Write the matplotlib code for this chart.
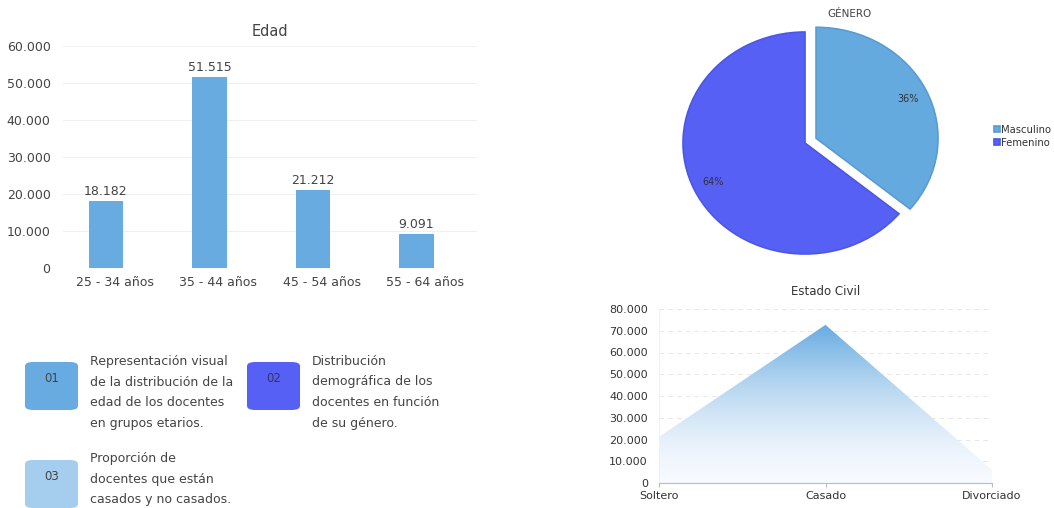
import matplotlib.pyplot as plt
import numpy as np
from matplotlib.patches import FancyBboxPatch, Polygon

# data
edad_labels = ['25 - 34 años', '35 - 44 años', '45 - 54 años', '55 - 64 años']
edad_values = [18182, 51515, 21212, 9091]
edad_text = ['18.182', '51.515', '21.212', '9.091']

genero_labels = ['Masculino', 'Femenino']
genero_values = [36, 64]

civil_labels = ['Soltero', 'Casado', 'Divorciado']
civil_values = [21212, 72727, 6061]

notes = ['Representación visual\nde la distribución de la\nedad de los docentes\nen grupos etarios.',
         'Distribución\ndemográfica de los\ndocentes en función\nde su género.',
         'Proporción de\ndocentes que están\ncasados y no casados.']
note_tags = ['01', '02', '03']

BLUE = '#67ABE1'
PURPLE = '#5660F5'
LIGHT = '#A5CDEE'
TXT = '#444444'

W, H = 1054, 508
fig = plt.figure(figsize=(W / 100, H / 100), dpi=100)
plt.rcParams['font.family'] = 'DejaVu Sans'

def px_axes(x0, y0, x1, y1):
    # pixel box (top-left origin) -> figure axes
    return fig.add_axes([x0 / W, 1 - y1 / H, (x1 - x0) / W, (y1 - y0) / H])

def fmt(v):
    return f'{int(v):,}'.replace(',', '.')

# ---- bar chart: Edad
ax = px_axes(63, 46, 477, 268)
pos = np.arange(len(edad_values))
ax.bar(pos - 0.085, edad_values, width=0.33, color=BLUE, zorder=3)
for p, v, t in zip(pos, edad_values, edad_text):
    ax.text(p - 0.085, v + 800, t, ha='center', va='bottom', fontsize=9, color=TXT)
ax.set_xlim(-0.5, 3.5)
ax.set_ylim(0, 60000)
ax.set_yticks(np.arange(0, 60001, 10000))
ax.set_yticklabels([fmt(v) for v in np.arange(0, 60001, 10000)])
ax.set_xticks(pos)
ax.set_xticklabels(edad_labels)
ax.tick_params(length=0, labelsize=9, colors=TXT, pad=6)
ax.tick_params(axis='y', pad=9)
ax.grid(axis='y', color='#F0F0F0', lw=0.8, zorder=0)
for s in ax.spines.values():
    s.set_visible(False)
ax.set_title('Edad', fontsize=10.5, color=TXT, pad=7)

# ---- pie: GÉNERO
rx, ry = 122, 111
cx, cy = 805, 143
axp = px_axes(cx - 1.2 * rx, cy - 1.2 * ry, cx + 1.2 * rx, cy + 1.2 * ry)
wedges, _, autotexts = axp.pie(genero_values, colors=['#64AADF', PURPLE], explode=[0.1, 0],
                               startangle=90, counterclock=False, autopct='%d%%',
                               pctdistance=0.83,
                               wedgeprops=dict(edgecolor=None, linewidth=0))
wedges[0].set_edgecolor('#5A9BD2')
wedges[0].set_linewidth(1.2)
wedges[1].set_edgecolor('#4C56E6')
wedges[1].set_linewidth(1.2)
for t in autotexts:
    t.set_fontsize(7)
    t.set_color('#333333')
axp.set_aspect('auto')
axp.set_xlim(-1.2, 1.2)
axp.set_ylim(-1.2, 1.2)
fig.text(849 / W, 1 - 14 / H, 'GÉNERO', ha='center', va='center', fontsize=7.5, color=TXT)
fig.legend(wedges, genero_labels, loc='upper left', bbox_to_anchor=(994 / W, 1 - 125 / H),
           frameon=False, fontsize=7.2, handlelength=0.55, handleheight=0.55, handletextpad=0.2,
           labelspacing=0.3, borderaxespad=0, borderpad=0, labelcolor='#333333')

# ---- area: Estado Civil
axa = px_axes(659, 309, 992, 483)
xs = np.arange(len(civil_values))
ymax = max(civil_values)
grad = np.linspace(0, 1, 256).reshape(-1, 1)
c_top = np.array([0x67, 0xAB, 0xE1]) / 255
c_bot = np.array([0xF7, 0xFA, 0xFE]) / 255
img = c_bot + (c_top - c_bot) * grad[..., None] ** 1.6
im = axa.imshow(img, extent=[0, 2, 0, ymax], origin='lower', aspect='auto', zorder=2)
poly = Polygon(list(zip(xs, civil_values)) + [(2, 0), (0, 0)], closed=True,
               transform=axa.transData, facecolor='none', edgecolor='none')
axa.add_patch(poly)
im.set_clip_path(poly)
axa.set_xlim(0, 2)
axa.set_ylim(0, 80000)
axa.set_yticks(np.arange(0, 80001, 10000))
axa.set_yticklabels([fmt(v) for v in np.arange(0, 80001, 10000)])
axa.set_xticks(xs)
axa.set_xticklabels(civil_labels)
axa.grid(axis='y', color='#E8E8E8', lw=0.7, ls=(0, (5, 4)), zorder=0)
axa.tick_params(axis='y', length=0, labelsize=8, colors='#333333', pad=8)
axa.tick_params(axis='x', direction='out', length=3, color='#BBBBBB', labelsize=8,
                labelcolor='#333333', pad=3)
for k in ['top', 'right']:
    axa.spines[k].set_visible(False)
axa.spines['left'].set_color('#F0F0F0')
axa.spines['bottom'].set_color('#BBBBBB')
axa.set_title('Estado Civil', fontsize=8.5, color='#333333', pad=10)

# ---- note boxes
box_pos = [(25, 362), (247, 362), (25, 460)]
box_col = [BLUE, PURPLE, LIGHT]
text_pos = [(90, 355), (312, 355), (90, 452)]
for (bx, by), col, tag, (tx, ty), note in zip(box_pos, box_col, note_tags, text_pos, notes):
    r = FancyBboxPatch((bx / W, 1 - (by + 48) / H), 53 / W, 48 / H,
                       boxstyle='round,pad=0,rounding_size=0.008', transform=fig.transFigure,
                       facecolor=col, edgecolor='none')
    fig.patches.append(r)
    fig.text((bx + 26.5) / W, 1 - (by + 17) / H, tag, ha='center', va='center',
             fontsize=8.5, color='#333366' if col == PURPLE else TXT)
    fig.text(tx / W, 1 - ty / H, note, ha='left', va='top', fontsize=9, color=TXT,
             linespacing=1.75)

fig.savefig('out.png', dpi=100)
